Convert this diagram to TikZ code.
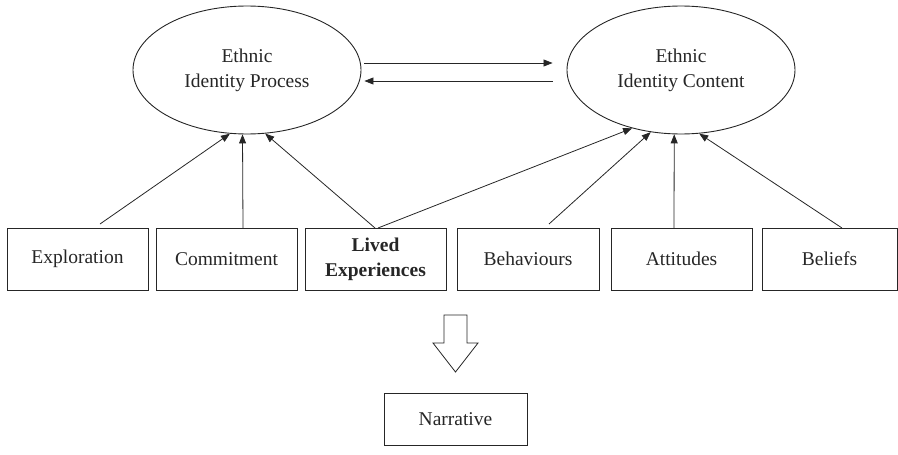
\documentclass[tikz,border=0pt]{standalone}
\usepackage{fontspec}
\setmainfont{Liberation Serif}
\usetikzlibrary{shapes.geometric,arrows.meta}
\definecolor{ink}{HTML}{262626}
\begin{document}
\begin{tikzpicture}[x=1pt,y=-1pt,
  every node/.style={font=\fontsize{19.5}{25}\selectfont, text=ink},
  ov/.style={ellipse,draw=ink,line width=0.9pt,minimum width=228pt,minimum height=128pt,inner sep=0pt,align=center},
  bx/.style={rectangle,draw=ink,line width=0.9pt,minimum height=62pt,inner sep=0pt,align=center},
  arr/.style={draw=ink,line width=0.8pt,-{Triangle[length=9pt,width=7pt]}}]
\useasboundingbox (0,0) rectangle (898,455);

% ellipses
\node[ov] (eip) at (247,70) {Ethnic\\Identity Process};
\node[ov] (eic) at (681,70) {Ethnic\\Identity Content};

% boxes
\node[bx,minimum width=141pt] (b1) at (77.5,259) {Exploration};
\node[bx,minimum width=141pt] (b2) at (226.5,259) {Commitment};
\node[bx,minimum width=141pt] (b3) at (375.5,259) {\textbf{Lived}\\\textbf{Experiences}};
\node[bx,minimum width=142pt] (b4) at (528,259) {Behaviours};
\node[bx,minimum width=141pt] (b5) at (681.5,259) {Attitudes};
\node[bx,minimum width=135pt] (b6) at (829.5,259) {Beliefs};
\node[bx,minimum width=143pt,minimum height=52pt] (nar) at (455.5,419) {Narrative};

% start points of connectors
\coordinate (s1) at (100,224);
\coordinate (s2) at (243,228);
\coordinate (s3) at (375,228);
\coordinate (s3b) at (378,228);
\coordinate (s4) at (549,224);
\coordinate (s5) at (674,228);
\coordinate (s6) at (842,228);

% connectors to process
\draw[arr] (s1) -- (eip.255.3);
\draw[arr] (s2) -- (eip.266.5);
\draw[arr] (s3) -- (eip.286.6);
% connectors to content
\draw[arr] (s3b) -- (eic.230.8);
\draw[arr] (s4) -- (eic.244.5);
\draw[arr] (s5) -- (eic.264);
\draw[arr] (s6) -- (eic.286);

% horizontal arrows
\draw[arr] ([xshift=3pt,yshift=7pt]eip.east) -- ([xshift=-14pt,yshift=7pt]eic.west);
\draw[arr] ([xshift=-14pt,yshift=-11pt]eic.west) -- ([xshift=3pt,yshift=-11pt]eip.east);

% block arrow
\draw[ink,line width=0.8pt,line join=miter]
  (444,315) -- (467,315) -- (467,343) -- (478,343) -- (455.5,372) -- (433,343) -- (444,343) -- cycle;
\end{tikzpicture}
\end{document}
